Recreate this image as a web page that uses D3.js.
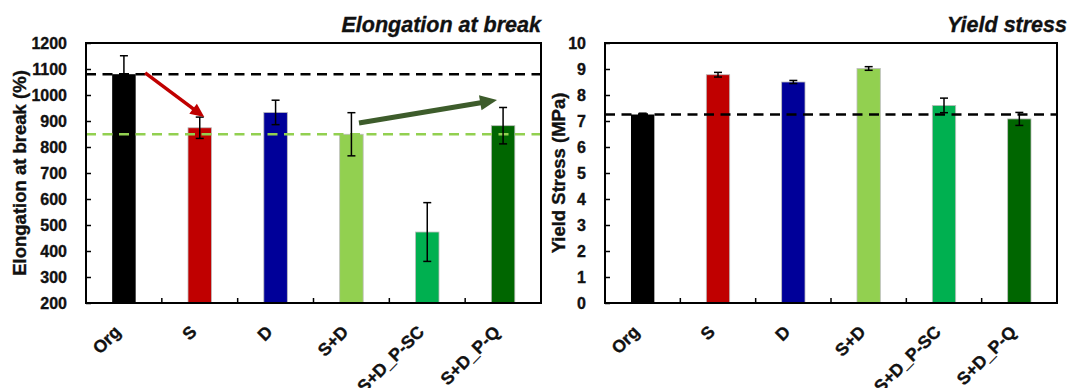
<!DOCTYPE html>
<html>
<head>
<meta charset="utf-8">
<script src="https://cdn.jsdelivr.net/npm/d3@7"></script>
<style>
  body { margin: 0; background: #fff; }
  svg { display: block; font-family: "Liberation Sans", Arial, sans-serif; }
</style>
</head>
<body>
<div id="chart"></div>
<script>
var categories = ['Org', 'S', 'D', 'S+D', 'S+D_P-SC', 'S+D_P-Q'];
var barColors = ['#000000', '#c00000', '#000099', '#92d050', '#00b050', '#006600'];

var elongation = [1080, 874, 933, 849, 473, 882];
var elongationErr = [71, 41, 47, 83, 113, 70];
var elongationTicks = [200, 300, 400, 500, 600, 700, 800, 900, 1000, 1100, 1200];
var elongationRefs = [{value: 1080, color: '#000000'}, {value: 849, color: '#92d050'}];
// trend arrows: [category, position in band, value]
var elongationArrows = [
  {from: ['Org', 0.78, 1085], to: ['S', 0.56, 915], color: '#c00000', width: 3.5, head: 14},
  {from: ['S+D', 0.60, 892], to: ['S+D_P-Q', 0.42, 981], color: '#3d5c2b', width: 5, head: 17}
];

var yieldStress = [7.25, 8.78, 8.50, 9.02, 7.60, 7.08];
var yieldErr = [0.05, 0.09, 0.06, 0.07, 0.28, 0.25];
var yieldTicks = [0, 1, 2, 3, 4, 5, 6, 7, 8, 9, 10];
var yieldRefs = [{value: 7.25, color: '#000000'}];

var width = 1070;
var height = 388;

var svg = d3.select('#chart')
            .append('svg')
            .attr('width', width)
            .attr('height', height);

buildBarChart({
  left: 86, right: 541, top: 43, bottom: 303,
  values: elongation, errors: elongationErr, ticks: elongationTicks,
  refs: elongationRefs, arrows: elongationArrows,
  title: 'Elongation at break', titleX: 541,
  yLabel: 'Elongation at break (%)', yLabelX: 20
});

buildBarChart({
  left: 605, right: 1057, top: 43, bottom: 303,
  values: yieldStress, errors: yieldErr, ticks: yieldTicks,
  refs: yieldRefs, arrows: [],
  title: 'Yield stress', titleX: 1067,
  yLabel: 'Yield Stress (MPa)', yLabelX: 559
});

function boldText(sel, size) {
  sel.attr('font-size', size)
     .attr('font-weight', 'bold')
     .attr('font-family', '"Liberation Sans", Arial, sans-serif')
     .attr('fill', '#111')
     .attr('stroke', '#111')
     .attr('stroke-width', 0.35);
}

function buildBarChart(opt) {
  var x = d3.scaleBand()
            .domain(categories)
            .range([opt.left, opt.right])
            .paddingInner(0)
            .paddingOuter(0);

  var y = d3.scaleLinear()
            .domain(d3.extent(opt.ticks))
            .range([opt.bottom, opt.top]);

  var bw = x.bandwidth();
  var barW = bw * 0.31;
  var g = svg.append('g');

  // bars
  g.selectAll('rect.bar')
    .data(opt.values)
    .enter()
    .append('rect')
    .attr('class', 'bar')
    .attr('x', (d, i) => x(categories[i]) + (bw - barW) / 2)
    .attr('width', barW)
    .attr('y', d => y(d))
    .attr('height', d => y(y.domain()[0]) - y(d))
    .attr('fill', (d, i) => barColors[i])
    .attr('stroke', (d, i) => i == 0 ? 'none' : '#bdbdbd')
    .attr('stroke-width', 0.8);

  // reference lines
  g.selectAll('line.ref')
    .data(opt.refs)
    .enter()
    .append('line')
    .attr('x1', opt.left)
    .attr('x2', opt.right)
    .attr('y1', d => y(d.value))
    .attr('y2', d => y(d.value))
    .attr('stroke', d => d.color)
    .attr('stroke-width', 2.5)
    .attr('stroke-dasharray', '10,6.5');

  // error bars
  var err = g.selectAll('g.err')
             .data(opt.values)
             .enter()
             .append('g')
             .attr('stroke', '#000')
             .attr('stroke-width', 1.5);
  var cx = i => x(categories[i]) + bw / 2;
  err.append('line')
     .attr('x1', (d, i) => cx(i)).attr('x2', (d, i) => cx(i))
     .attr('y1', (d, i) => y(d - opt.errors[i]))
     .attr('y2', (d, i) => y(d + opt.errors[i]));
  err.append('line')
     .attr('x1', (d, i) => cx(i) - 4).attr('x2', (d, i) => cx(i) + 4)
     .attr('y1', (d, i) => y(d + opt.errors[i]))
     .attr('y2', (d, i) => y(d + opt.errors[i]));
  err.append('line')
     .attr('x1', (d, i) => cx(i) - 4).attr('x2', (d, i) => cx(i) + 4)
     .attr('y1', (d, i) => y(d - opt.errors[i]))
     .attr('y2', (d, i) => y(d - opt.errors[i]));

  // arrows
  opt.arrows.forEach(function(a) {
    var x1 = x(a.from[0]) + bw * a.from[1], y1 = y(a.from[2]);
    var x2 = x(a.to[0]) + bw * a.to[1], y2 = y(a.to[2]);
    var ang = Math.atan2(y2 - y1, x2 - x1);
    var bx = x2 - a.head * Math.cos(ang), by = y2 - a.head * Math.sin(ang);
    var hw = a.head * 0.45;
    g.append('line')
     .attr('x1', x1).attr('y1', y1)
     .attr('x2', bx + 2 * Math.cos(ang)).attr('y2', by + 2 * Math.sin(ang))
     .attr('stroke', a.color)
     .attr('stroke-width', a.width);
    g.append('path')
     .attr('d', 'M' + x2 + ',' + y2 +
                'L' + (bx - hw * Math.sin(ang)) + ',' + (by + hw * Math.cos(ang)) +
                'L' + (bx + hw * Math.sin(ang)) + ',' + (by - hw * Math.cos(ang)) + 'Z')
     .attr('fill', a.color);
  });

  // frame
  g.append('rect')
    .attr('x', opt.left).attr('y', opt.top)
    .attr('width', opt.right - opt.left)
    .attr('height', opt.bottom - opt.top)
    .attr('fill', 'none')
    .attr('stroke', '#000')
    .attr('stroke-width', 2);

  // y axis: inward ticks, labels on the left
  var yAxis = d3.axisLeft(y)
                .tickValues(opt.ticks)
                .tickFormat(d3.format('d'))
                .tickSizeInner(-5)
                .tickSizeOuter(0)
                .tickPadding(19);
  var ya = g.append('g')
            .attr('transform', 'translate(' + opt.left + ',0)')
            .call(yAxis);
  ya.select('.domain').remove();
  ya.selectAll('.tick line').attr('stroke-width', 1.5);
  boldText(ya.selectAll('.tick text'), 16);

  // x ticks between categories
  g.selectAll('line.xtick')
    .data(categories.slice(1))
    .enter()
    .append('line')
    .attr('x1', d => x(d)).attr('x2', d => x(d))
    .attr('y1', opt.bottom).attr('y2', opt.bottom - 5)
    .attr('stroke', '#000')
    .attr('stroke-width', 1.5);

  // rotated category labels
  var xl = g.selectAll('text.xlab')
    .data(categories)
    .enter()
    .append('text')
    .attr('transform', d => 'translate(' + (x(d) + bw / 2 - 2) + ',' + (opt.bottom + 30) + ') rotate(-45)')
    .attr('text-anchor', 'end')
    .text(d => d);
  boldText(xl, 17.5);

  // axis title
  var yl = g.append('text')
    .attr('transform', 'translate(' + opt.yLabelX + ',' + ((opt.top + opt.bottom) / 2) + ') rotate(-90)')
    .attr('text-anchor', 'middle')
    .attr('dy', '0.35em')
    .text(opt.yLabel);
  boldText(yl, 18.5);

  // chart title
  var t = g.append('text')
    .attr('x', opt.titleX)
    .attr('y', 32)
    .attr('text-anchor', 'end')
    .attr('font-style', 'italic')
    .text(opt.title);
  boldText(t, 21.5);
}
</script>
</body>
</html>
